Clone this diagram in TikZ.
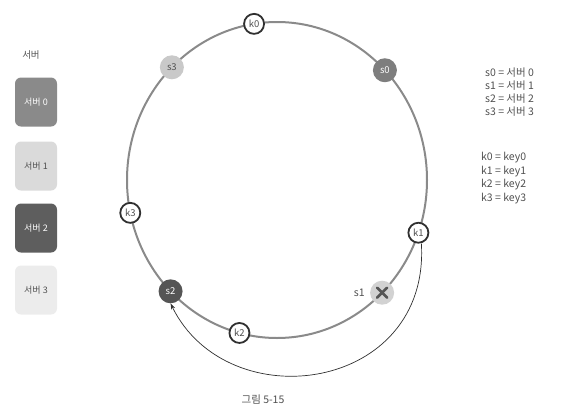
\documentclass[tikz,border=0pt]{standalone}
\usepackage{fontspec}
\setmainfont{Noto Sans CJK KR}
\usetikzlibrary{arrows.meta}
\definecolor{ringc}{HTML}{8A8A8A}
\definecolor{txt}{HTML}{505050}
\definecolor{kline}{HTML}{303030}
\definecolor{sz}{HTML}{7E7E7E}
\definecolor{so}{HTML}{D2D2D2}
\definecolor{st}{HTML}{555555}
\definecolor{sh}{HTML}{C9C9C9}
\definecolor{bz}{HTML}{8A8A8A}
\definecolor{bo}{HTML}{DADADA}
\definecolor{bt}{HTML}{5E5E5E}
\definecolor{bh}{HTML}{ECECEC}
\tikzset{
  keynode/.style={circle, draw=kline, line width=1.8pt, fill=white, minimum size=20pt, inner sep=0pt, text=txt, font=\fontsize{9.5}{11}\selectfont},
  srvnode/.style={circle, minimum size=24pt, inner sep=0pt, font=\fontsize{9.5}{11}\selectfont},
  legbox/.style={rounded corners=6pt, minimum width=42pt, minimum height=49pt, inner sep=0pt, font=\fontsize{9}{11}\selectfont},
  lbl/.style={text=txt, font=\fontsize{10.5}{12}\selectfont, inner sep=0pt},
}
\begin{document}
\begin{tikzpicture}[x=1pt,y=-1pt]
\useasboundingbox (0,0) rectangle (571,418);
% ring
\draw[ringc, line width=2pt] (277,180) ellipse [x radius=150pt, y radius=158pt];
% server nodes
\path ({277+150*cos(44)},{180-158*sin(44)}) node[srvnode, fill=sz, text=white] (s0) {s0};
\path ({277+150*cos(134.5)},{180-158*sin(134.5)}) node[srvnode, fill=sh, text=txt] (s3) {s3};
\path ({277+150*cos(224.8)},{180-158*sin(224.8)}) node[srvnode, fill=st, text=white] (s2) {s2};
\path ({277+150*cos(-45.5)},{180-158*sin(-45.5)}) node[srvnode, fill=so] (s1) {};
\draw[st, line width=2.6pt, line cap=round] ([shift={(-5,-5)}]s1.center) -- ([shift={(5,5)}]s1.center);
\draw[st, line width=2.6pt, line cap=round] ([shift={(-5,5)}]s1.center) -- ([shift={(5,-5)}]s1.center);
\node[lbl, anchor=east] (s1l) at ([xshift=-5pt]s1.west) {s1};
% key nodes
\path ({277+150*cos(98.8)},{180-158*sin(98.8)}) node[keynode] (k0) {k0};
\path ({277+150*cos(192)},{180-158*sin(192)}) node[keynode] (k3) {k3};
\path ({277+150*cos(-19.5)},{180-158*sin(-19.5)}) node[keynode] (k1) {k1};
\path ({277+150*cos(255.5)},{180-158*sin(255.5)}) node[keynode] (k2) {k2};
% arrow k1 -> s2
\draw[kline, line width=0.7pt, -{Stealth[length=6pt,width=4pt]}] ([xshift=3pt]k1.south) .. controls (430,392) and (228,420) .. (s2.south);
% legend left
\node[lbl, font=\fontsize{9.5}{11}\selectfont] (lt) at (31,55) {서버};
\node[legbox, fill=bz, text=white] (b0) at (36,102) {서버 0};
\node[legbox, fill=bo, text=txt] (b1) at (36,166) {서버 1};
\node[legbox, fill=bt, text=white] (b2) at (36,228) {서버 2};
\node[legbox, fill=bh, text=txt] (b3) at (36,290) {서버 3};
% legend right
\node[lbl, anchor=west] (r0) at (485,73) {s0 = 서버 0};
\node[lbl, anchor=west] (r1) at (485,86) {s1 = 서버 1};
\node[lbl, anchor=west] (r2) at (485,99) {s2 = 서버 2};
\node[lbl, anchor=west] (r3) at (485,112) {s3 = 서버 3};
\node[lbl, anchor=west] (q0) at (481,158) {k0 = key0};
\node[lbl, anchor=west] (q1) at (481,172) {k1 = key1};
\node[lbl, anchor=west] (q2) at (481,185) {k2 = key2};
\node[lbl, anchor=west] (q3) at (481,199) {k3 = key3};
% caption
\node[lbl] (cap) at (263,400) {그림 5-15};
\end{tikzpicture}
\end{document}
